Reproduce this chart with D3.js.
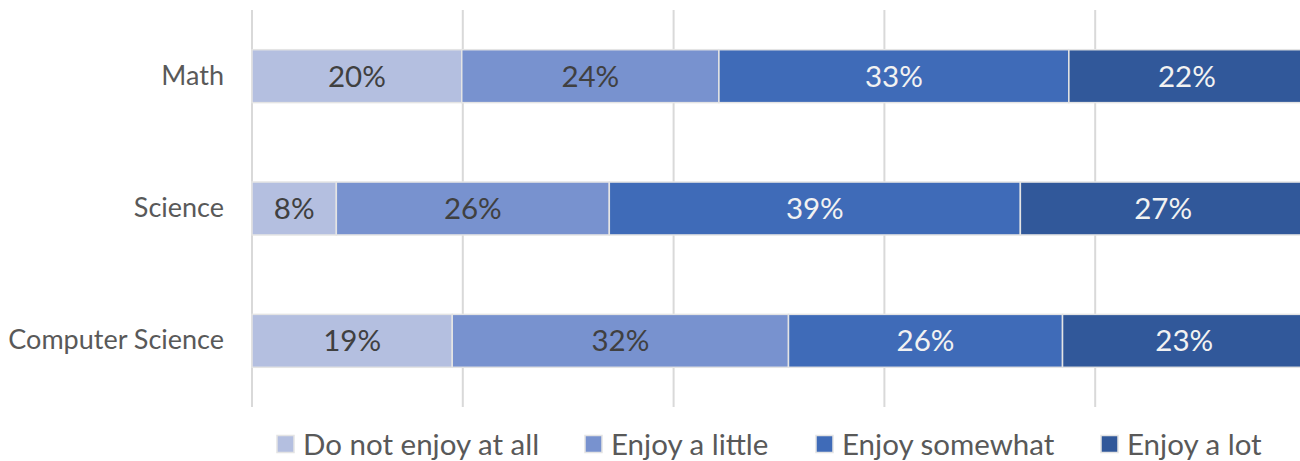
<!DOCTYPE html>
<html>
<head>
<meta charset="utf-8">
<script src="https://cdn.jsdelivr.net/npm/d3@7"></script>
<style>
  html, body { margin: 0; padding: 0; background: #ffffff; }
  svg { display: block; font-family: Lato, "Open Sans", sans-serif; }
</style>
</head>
<body>
<svg id="chart" width="1300" height="461"></svg>
<script>
// Subjects (top to bottom) and enjoyment shares per response level
const subjects = ["Math", "Science", "Computer Science"];
const levels = ["Do not enjoy at all", "Enjoy a little", "Enjoy somewhat", "Enjoy a lot"];
const notAtAll = [0.199, 0.080, 0.190];
const aLittle  = [0.244, 0.259, 0.319];
const somewhat = [0.332, 0.390, 0.260];
const aLot     = [0.224, 0.271, 0.231];
const xTicks = [0, 0.2, 0.4, 0.6, 0.8, 1.0];

const colors = ["#b4bfe0", "#7892cf", "#3f6bb8", "#31589a"];
const labelColors = ["#404040", "#404040", "#f2f2f2", "#f2f2f2"];

const rows = subjects.map((s, i) => ({
  subject: s,
  "Do not enjoy at all": notAtAll[i],
  "Enjoy a little": aLittle[i],
  "Enjoy somewhat": somewhat[i],
  "Enjoy a lot": aLot[i]
}));

const stacked = d3.stack().keys(levels)(rows);

const svg = d3.select("#chart");
const margin = { left: 252, top: 10 };
const plotW = 1054, plotH = 397;

const x = d3.scaleLinear().domain([0, 1]).range([margin.left, margin.left + plotW]);
const y = d3.scaleBand().domain(subjects).range([margin.top, margin.top + plotH]).paddingInner(0.6).paddingOuter(0.3);

// vertical gridlines
svg.append("g").selectAll("line").data(xTicks).join("line")
  .attr("x1", d => x(d)).attr("x2", d => x(d))
  .attr("y1", margin.top).attr("y2", margin.top + plotH)
  .attr("stroke", "#d9d9d9").attr("stroke-width", 2);

// stacked segments
const layers = svg.append("g").selectAll("g").data(stacked).join("g")
  .attr("fill", (d, i) => colors[i]);

layers.selectAll("rect").data(d => d).join("rect")
  .attr("x", d => x(d[0]))
  .attr("y", d => y(d.data.subject))
  .attr("width", d => x(d[1]) - x(d[0]))
  .attr("height", y.bandwidth())
  .attr("stroke", "#e4e4e4")
  .attr("stroke-width", 1.5);

// segment value labels
svg.append("g").selectAll("g").data(stacked).join("g")
  .attr("fill", (d, i) => labelColors[i])
  .selectAll("text").data(d => d).join("text")
  .attr("x", d => (x(d[0]) + x(d[1])) / 2)
  .attr("y", d => y(d.data.subject) + y.bandwidth() / 2)
  .attr("dy", "0.36em")
  .attr("text-anchor", "middle")
  .attr("font-size", 29.5)
  .text(d => Math.round((d[1] - d[0]) * 100) + "%");

// category axis labels
const yAxis = d3.axisLeft(y).tickSize(0).tickPadding(28);
const gy = svg.append("g").attr("transform", `translate(${margin.left},0)`).call(yAxis);
gy.select(".domain").remove();
gy.selectAll("text").attr("font-size", 27).attr("fill", "#595959")
  .attr("font-family", "Lato, 'Open Sans', sans-serif");

// legend
const legendX = [277, 585, 816, 1101];
const legend = svg.append("g").selectAll("g").data(levels).join("g")
  .attr("transform", (d, i) => `translate(${legendX[i]},444)`);
legend.append("rect")
  .attr("x", 0).attr("y", -8.5).attr("width", 17).attr("height", 17)
  .attr("fill", (d, i) => colors[i])
  .attr("stroke", "#e4e4e4").attr("stroke-width", 1.5);
legend.append("text")
  .attr("x", 26).attr("dy", "0.36em")
  .attr("font-size", 29.5).attr("fill", "#595959")
  .text(d => d);
</script>
</body>
</html>
